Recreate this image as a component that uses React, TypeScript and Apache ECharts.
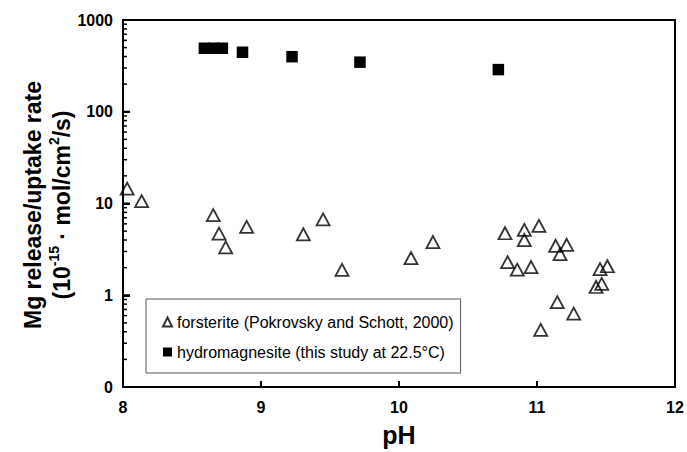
import React, { useEffect, useRef } from "react";
import * as echarts from "echarts";

// Forsterite (Pokrovsky and Schott, 2000)
const forsteritePH = [
  8.03, 8.135, 8.654, 8.696, 8.744, 8.896, 9.307, 9.45, 9.587, 10.087, 10.246,
  10.768, 10.908, 10.908, 11.014, 11.135, 11.215, 11.167, 10.787, 10.857, 10.957,
  11.457, 11.51, 11.428, 11.469, 11.147, 11.266, 11.027,
];
const forsteriteRate = [
  14.5, 10.6, 7.48, 4.7, 3.32, 5.55, 4.62, 6.7, 1.89, 2.54, 3.8,
  4.74, 5.15, 4.0, 5.69, 3.46, 3.55, 2.81, 2.29, 1.9, 2.03,
  1.93, 2.07, 1.23, 1.33, 0.84, 0.63, 0.42,
];

// Hydromagnesite (this study at 22.5°C)
const hydroPH = [8.59, 8.66, 8.72, 8.866, 9.225, 9.717, 10.72];
const hydroRate = [492, 492, 492, 445, 398, 347, 288];

const xTicks = [8, 9, 10, 11, 12];
const yMajor = [0.1, 1, 10, 100, 1000];
const yMinor = [
  0.2, 0.3, 0.4, 0.5, 0.6, 0.7, 0.8, 0.9,
  2, 3, 4, 5, 6, 7, 8, 9,
  20, 30, 40, 50, 60, 70, 80, 90,
  200, 300, 400, 500, 600, 700, 800, 900,
];

const FONT = "'Liberation Sans', Arial, sans-serif";
const NAME_F = "forsterite (Pokrovsky and Schott, 2000)";
const NAME_H = "hydromagnesite (this study at 22.5°C)";

const titleGraphic = {
  id: "ytitle",
  type: "text",
  x: 47,
  y: 205,
  rotation: Math.PI / 2,
  style: {
    text: "{t|Mg release/uptake rate}\n{t|(10}{s|-15}{t| · mol/cm}{s|2}{t|/s)}",
    align: "center",
    verticalAlign: "middle",
    rich: {
      t: { fontSize: 23, fontWeight: "bold", fontFamily: FONT, lineHeight: 29, color: "#000" },
      s: { fontSize: 14, fontWeight: "bold", fontFamily: FONT, lineHeight: 16, verticalAlign: "top", color: "#000" },
    },
  },
};

function buildOption() {
  const forsteriteData = forsteritePH.map((x, i) => [x, forsteriteRate[i]]);
  const hydroData = hydroPH.map((x, i) => [x, hydroRate[i]]);
  return {
    animation: false,
    grid: { left: 123, right: 12, top: 20, bottom: 62, show: true, borderColor: "#000", borderWidth: 2 },
    xAxis: {
      type: "value",
      min: xTicks[0],
      max: xTicks[xTicks.length - 1],
      interval: 1,
      name: "pH",
      nameLocation: "middle",
      nameGap: 35,
      nameTextStyle: { fontSize: 25, fontWeight: "bold", color: "#000", fontFamily: FONT },
      axisLine: { show: true, lineStyle: { color: "#000", width: 2 } },
      axisTick: { show: true, inside: true, length: 6, lineStyle: { color: "#000", width: 2 } },
      axisLabel: { margin: 12, fontSize: 16, fontWeight: "bold", color: "#000", fontFamily: FONT },
      splitLine: { show: false },
    },
    yAxis: {
      type: "log",
      min: yMajor[0],
      max: yMajor[yMajor.length - 1],
      axisLine: { show: true, lineStyle: { color: "#000", width: 2 } },
      axisTick: { show: true, inside: true, length: 7, lineStyle: { color: "#000", width: 2 } },
      axisLabel: {
        margin: 10,
        fontSize: 16,
        fontWeight: "bold",
        color: "#000",
        fontFamily: FONT,
        formatter: (v: number) => (v < 1 ? "0" : String(Math.round(v))),
      },
      splitLine: { show: false },
    },
    legend: {
      orient: "vertical",
      left: 146,
      top: 299,
      padding: [15, 7, 13, 16],
      itemGap: 14,
      itemWidth: 9,
      itemHeight: 9,
      borderColor: "#555",
      borderWidth: 1,
      textStyle: { fontSize: 16, color: "#000", fontFamily: FONT },
      data: [
        { name: NAME_F, icon: "triangle" },
        { name: NAME_H, icon: "rect" },
      ],
    },
    graphic: [titleGraphic],
    series: [
      {
        name: NAME_F,
        type: "scatter",
        symbol: "triangle",
        symbolSize: [13, 12],
        itemStyle: { color: "rgba(0,0,0,0)", borderColor: "#000", borderWidth: 1.8 },
        data: forsteriteData,
      },
      {
        name: NAME_H,
        type: "scatter",
        symbol: "rect",
        symbolSize: 11.5,
        itemStyle: { color: "#000", opacity: 1 },
        data: hydroData,
      },
    ],
  };
}

function Chart() {
  const ref = useRef<HTMLDivElement>(null);
  useEffect(() => {
    const c = echarts.init(ref.current!, null, { renderer: "svg" });
    c.setOption(buildOption());

    // Frame edges and Excel-style ticks as filled bars, placed through the chart's scales
    const px = (x: number, y: number) => c.convertToPixel({ gridIndex: 0 }, [x, y]) as number[];
    const xMin = xTicks[0];
    const xMax = xTicks[xTicks.length - 1];
    const yMin = yMajor[0];
    const yMax = yMajor[yMajor.length - 1];
    const tl = px(xMin, yMax);
    const br = px(xMax, yMin);
    const bar = (id: string, x: number, y: number, w: number, h: number) => ({
      id, type: "rect", silent: true, z: 100,
      shape: { x, y, width: w, height: h },
      style: { fill: "#000" },
    });
    const extra: any[] = [
      bar("top", tl[0] - 1, tl[1] - 1, br[0] - tl[0] + 2, 2),
      bar("right", br[0] - 1, tl[1] - 1, 2, br[1] - tl[1] + 2),
    ];
    xTicks.slice(1, -1).forEach((v, i) => {
      const p = px(v, yMin);
      extra.push(bar("xt" + i, p[0] - 1, p[1] - 6, 2, 6));
    });
    yMajor.slice(1, -1).forEach((v, i) => {
      const p = px(xMin, v);
      extra.push(bar("ym" + i, p[0], p[1] - 1, 7, 2));
    });
    yMinor.forEach((v, i) => {
      const p = px(xMin, v);
      extra.push(bar("yn" + i, p[0], p[1] - 0.75, 4, 1.5));
    });
    c.setOption({ graphic: [titleGraphic, ...extra] });

    return () => c.dispose();
  }, []);
  return <div ref={ref} style={{ width: 687, height: 452 }} />;
}

export default function App() {
  return (
    <div style={{ position: "absolute", left: 0, top: 0, width: 687, height: 452 }}>
      <Chart />
    </div>
  );
}
